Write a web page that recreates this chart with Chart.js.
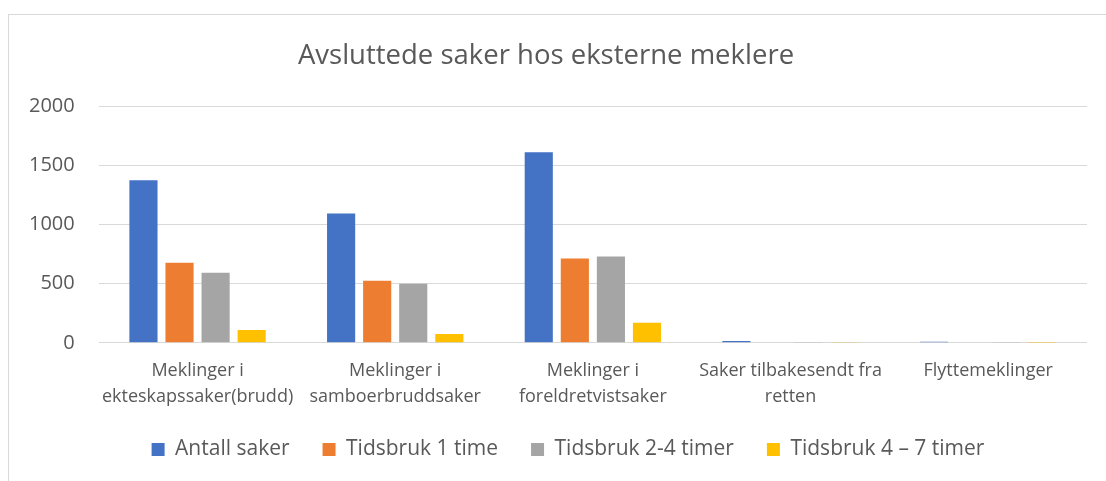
<!DOCTYPE html>
<html>
<head>
<meta charset="utf-8">
<script src="https://cdn.jsdelivr.net/npm/chart.js@4"></script>
<style>
  html, body { margin: 0; padding: 0; background: #fff; }
  #wrap { position: relative; width: 1106px; height: 481px; overflow: hidden; }
  #frame { position: absolute; left: 8px; top: 14px; width: 1110px; height: 470px; border: 1px solid #d9d9d9; }
  #myChart { position: absolute; left: 0; top: 0; }
</style>
</head>
<body>
<div id="wrap">
  <div id="frame"></div>
  <canvas id="myChart" width="1106" height="481"></canvas>
</div>
<script>
// categories (multi-line like the original)
const categories = [
  ["Meklinger i", "ekteskapssaker(brudd)"],
  ["Meklinger i", "samboerbruddsaker"],
  ["Meklinger i", "foreldretvistsaker"],
  ["Saker tilbakesendt fra", "retten"],
  ["Flyttemeklinger"],
];

const seriesNames = ["Antall saker", "Tidsbruk 1 time", "Tidsbruk 2-4 timer", "Tidsbruk 4 \u2013 7 timer"];

const antallSaker = [1373, 1092, 1610, 16, 9];
const tidsbruk1 = [677, 524, 712, 4, 4];
const tidsbruk24 = [592, 499, 728, 3, 3];
const tidsbruk47 = [108, 75, 170, 2, 1];

const yTicks = [0, 500, 1000, 1500, 2000];

const colors = ["#4472C4", "#ED7D31", "#A5A5A5", "#FFC000"];
const textColor = "#595959";
const fontFamily = "'Open Sans', Lato, sans-serif";

const ctx = document.getElementById("myChart");

const allSeries = [antallSaker, tidsbruk1, tidsbruk24, tidsbruk47];

// legend in the original sits a bit right of the centre and closer to the labels
const legendShift = {
  id: "legendShift",
  afterLayout(chart) {
    chart.legend.left += 22;
    chart.legend.right += 22;
    chart.legend.top -= 11;
    chart.legend.bottom -= 11;
  },
};

const obj = {
  type: "bar",
  data: {
    labels: categories,
    datasets: allSeries.map((vals, i) => ({
      label: seriesNames[i],
      data: vals,
      backgroundColor: colors[i],
      borderWidth: 0,
      categoryPercentage: 0.73,
      barPercentage: 0.78,
    })),
  },
  options: {
    responsive: false,
    animation: false,
    layout: {
      padding: { top: 40, left: 5, right: 19, bottom: 0 },
    },
    plugins: {
      title: {
        display: true,
        text: "Avsluttede saker hos eksterne meklere",
        color: textColor,
        font: { family: fontFamily, size: 27.5, weight: "normal", lineHeight: 1.2 },
        padding: { top: 0, bottom: 33 },
      },
      legend: {
        position: "bottom",
        labels: {
          color: textColor,
          font: { family: fontFamily, size: 21 },
          boxWidth: 13,
          boxHeight: 13,
          padding: 33,
        },
      },
      tooltip: { enabled: false },
    },
    scales: {
      x: {
        grid: { display: false },
        border: { display: false },
        ticks: {
          color: textColor,
          font: { family: fontFamily, size: 18, lineHeight: 1.45 },
          padding: 7,
          maxRotation: 0,
          autoSkip: false,
        },
      },
      y: {
        min: 0,
        max: 2000,
        afterBuildTicks: (axis) => {
          axis.ticks = yTicks.map((v) => ({ value: v }));
        },
        grid: { color: "#d9d9d9", lineWidth: 1, drawTicks: false },
        border: { display: false },
        ticks: {
          color: textColor,
          font: { family: fontFamily, size: 20 },
          padding: 24,
          callback: (v) => String(v),
        },
      },
    },
  },
  plugins: [legendShift],
};

new Chart(ctx, obj);
</script>
</body>
</html>
